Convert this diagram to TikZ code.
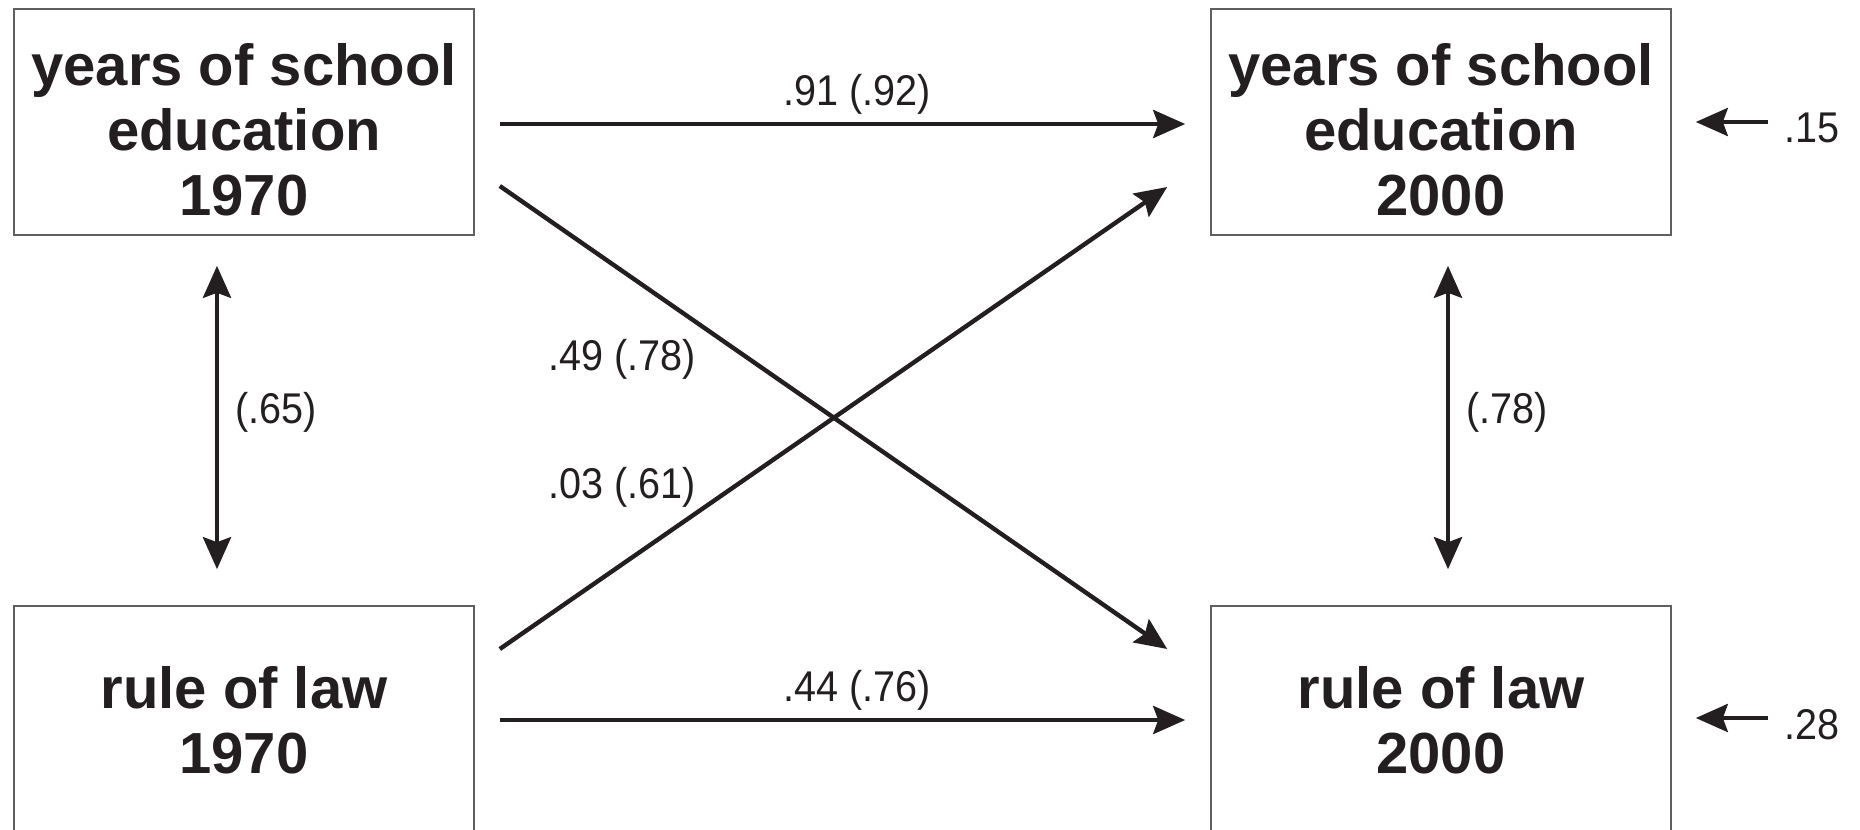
\documentclass[tikz,border=0pt]{standalone}
\usepackage{fontspec}
\setmainfont{Liberation Sans}
\newfontfamily\narrowsans[FakeStretch=0.92]{Liberation Sans}
\usetikzlibrary{arrows.meta,calc}
\definecolor{ink}{RGB}{35,31,32}
\definecolor{frame}{RGB}{95,95,95}
\begin{document}
\begin{tikzpicture}[x=0.5pt,y=-0.5pt,
  box/.style={draw=frame,line width=0.8pt,minimum width=230pt,minimum height=113pt,inner sep=0pt},
  boxtext/.style={font=\bfseries\fontsize{29}{32.5}\selectfont,text=ink,align=center,inner sep=0pt},
  coef/.style={font=\narrowsans\fontsize{21.5}{24}\selectfont,text=ink,inner sep=0pt,anchor=base},
  tip/.tip={Stealth[length=16pt,width=14pt,inset=2.5pt]},
  link/.style={draw=ink,line width=2.2pt,-tip},
  twoway/.style={draw=ink,line width=2.2pt,tip-tip}
]
\useasboundingbox (0,0) rectangle (1860,830);
\clip (0,0) rectangle (1860,830);

% variable boxes
\node[box] (tl) at (244,122) {};
\node[box] (tr) at (1441,122) {};
\node[box] (bl) at (244,719) {};
\node[box] (br) at (1441,719) {};

\node[boxtext] (tlt) at ($(tl.center)+(0,8)$) {years of school\\education\\1970};
\node[boxtext] (trt) at ($(tr.center)+(0,8)$) {years of school\\education\\2000};
\node[boxtext] (blt) at ($(bl.center)+(0,1)$) {rule of law\\1970};
\node[boxtext] (brt) at ($(br.center)+(0,1)$) {rule of law\\2000};

% connector end points
\coordinate (a1) at ($(tl.east)+(25,2)$);
\coordinate (b1) at ($(tr.west)+(-25,2)$);
\coordinate (a2) at ($(tl.east)+(25,64)$);
\coordinate (b2) at ($(br.west)+(-43,-70)$);
\coordinate (a3) at ($(bl.east)+(25,-70)$);
\coordinate (b3) at ($(tr.west)+(-43,65)$);
\coordinate (a4) at ($(bl.east)+(25,1)$);
\coordinate (b4) at ($(br.west)+(-25,1)$);
\coordinate (u1) at ($(tl.south)+(-27,30)$);
\coordinate (d1) at ($(bl.north)+(-27,-36)$);
\coordinate (u2) at ($(tr.south)+(7,30)$);
\coordinate (d2) at ($(br.north)+(7,-36)$);
\coordinate (e1) at ($(tr.east)+(96,0)$);
\coordinate (f1) at ($(tr.east)+(24,0)$);
\coordinate (e2) at ($(br.east)+(96,-1)$);
\coordinate (f2) at ($(br.east)+(24,-1)$);

% paths
\draw[link] (a1) -- (b1);
\draw[link] (a2) -- (b2);
\draw[link] (a3) -- (b3);
\draw[link] (a4) -- (b4);
\draw[twoway] (u1) -- (d1);
\draw[twoway] (u2) -- (d2);
\draw[link] (e1) -- (f1);
\draw[link] (e2) -- (f2);

% coefficients
\node[coef] (k1) at (857,105) {.91 (.92)};
\node[coef] (k2) at (857,701) {.44 (.76)};
\node[coef] (k3) at (622,370) {.49 (.78)};
\node[coef] (k4) at (622,498) {.03 (.61)};
\node[coef] (k5) at (276,423) {(.65)};
\node[coef] (k6) at (1507,423) {(.78)};
\node[coef,anchor=base west] (r1) at (1784,142) {.15};
\node[coef,anchor=base west] (r2) at (1784,739) {.28};
\end{tikzpicture}
\end{document}
